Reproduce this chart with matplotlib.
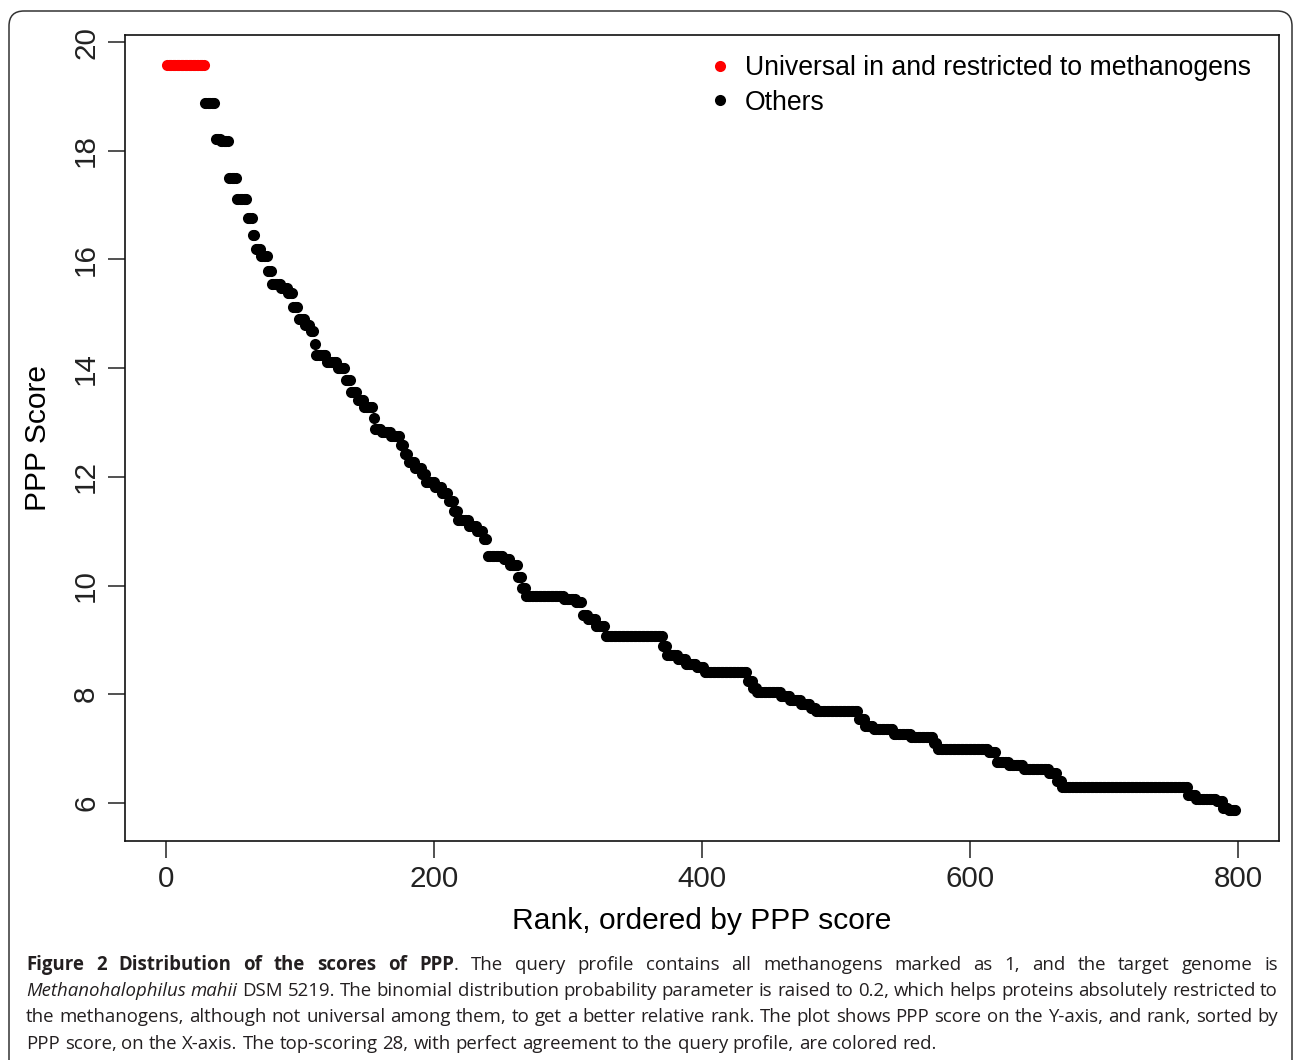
import numpy as np
import matplotlib
matplotlib.use('Agg')
import matplotlib.pyplot as plt
from matplotlib.patches import FancyBboxPatch
from matplotlib.transforms import IdentityTransform

# step levels of the PPP score and how many ranks sit on each level
step_scores = [19.57, 18.87, 18.22, 18.18, 17.50, 17.12, 16.77, 16.45, 16.20, 16.07,
               15.79, 15.55, 15.48, 15.38, 15.12, 14.90, 14.80, 14.68, 14.45, 14.25,
               14.12, 14.00, 13.78, 13.57, 13.42, 13.28, 13.08, 12.88, 12.82, 12.75,
               12.58, 12.42, 12.28, 12.16, 12.05, 11.90, 11.82, 11.70, 11.55, 11.38,
               11.20, 11.10, 11.00, 10.85, 10.55, 10.48, 10.38, 10.15, 9.95, 9.80,
               9.75, 9.70, 9.45, 9.38, 9.25, 9.08, 8.88, 8.72, 8.65, 8.55,
               8.50, 8.41, 8.25, 8.12, 8.04, 7.97, 7.90, 7.82, 7.75, 7.70,
               7.55, 7.42, 7.36, 7.26, 7.22, 7.10, 6.99, 6.93, 6.75, 6.70,
               6.62, 6.55, 6.40, 6.29, 6.15, 6.07, 6.03, 5.90, 5.87]
step_counts = [28, 8, 4, 6, 6, 8, 4, 2, 4, 5,
               3, 7, 5, 4, 4, 5, 4, 3, 1, 8,
               8, 6, 4, 5, 5, 7, 1, 5, 7, 7,
               3, 3, 5, 5, 3, 7, 5, 5, 4, 3,
               8, 6, 5, 3, 12, 5, 6, 3, 3, 28,
               9, 5, 4, 6, 7, 43, 3, 8, 6, 8,
               6, 32, 4, 3, 18, 7, 8, 7, 4, 32,
               5, 6, 15, 13, 17, 3, 38, 6, 9, 11,
               19, 6, 4, 94, 6, 15, 5, 4, 6]
n_red = 28  # top-scoring, perfect agreement

x_ticks = [0, 200, 400, 600, 800]
y_ticks = [6, 8, 10, 12, 14, 16, 18, 20]

scores = np.repeat(step_scores, step_counts)
ranks = np.arange(1, len(scores) + 1)

W, H = 1293, 1060
plt.rcParams['font.family'] = ['Liberation Sans', 'DejaVu Sans']
fig = plt.figure(figsize=(W / 100, H / 100), dpi=100)

# plot region in pixels
left, right, top, bottom = 125, 1279, 35, 841
ax = fig.add_axes([left / W, 1 - bottom / H, (right - left) / W, (bottom - top) / H])

ax.plot(ranks[n_red:], scores[n_red:], 'o', color='black', ms=8, mew=0,
        label='Others')
ax.plot(ranks[:n_red], scores[:n_red], 'o', color='#ff0000', ms=8, mew=0,
        label='Universal in and restricted to methanogens')

ax.set_xlim(-30.6, 830.6)
ax.set_ylim(5.30, 20.13)
ax.set_xticks(x_ticks)
ax.set_yticks(y_ticks)
ax.tick_params(labelsize=21.3, length=12, width=1.1, pad=5, colors='#222222')
ax.tick_params(axis='y', labelrotation=90, pad=6)
for lab in ax.get_yticklabels():
    lab.set_va('center')
for sp in ax.spines.values():
    sp.set_linewidth(1.2)
    sp.set_color('#111111')

h, l = ax.get_legend_handles_labels()
ax.legend(h[::-1], l[::-1], loc='upper left', bbox_to_anchor=(708 / W, 1 - 55 / H),
          bbox_transform=fig.transFigure, frameon=False, fontsize=19.15,
          handlelength=0.9, handletextpad=0.5, labelspacing=0.33,
          borderpad=0, borderaxespad=0)

fig.text((left + right) / 2 / W, 1 - 921 / H, 'Rank, ordered by PPP score',
         fontsize=21.6, ha='center', va='center')
fig.text(38 / W, 1 - (top + bottom) / 2 / H, 'PPP Score', fontsize=21.6,
         rotation=90, ha='center', va='center')

# rounded frame around the figure
frame = FancyBboxPatch((9, -30), 1292 - 9, 1049 + 30,
                       boxstyle='round,pad=0,rounding_size=15',
                       transform=IdentityTransform(), fill=False,
                       edgecolor='#333333', linewidth=1.1)
fig.patches.append(frame)

# caption, fully justified
B, N, I = 'bold', 'normal', 'italic'
cap_lines = [
    [('Figure 2 Distribution of the scores of PPP', B), ('. The query profile contains all methanogens marked as 1, and the target genome is', N)],
    [('Methanohalophilus mahii', I), (' DSM 5219. The binomial distribution probability parameter is raised to 0.2, which helps proteins absolutely restricted to', N)],
    [('the methanogens, although not universal among them, to get a better relative rank. The plot shows PPP score on the Y-axis, and rank, sorted by', N)],
    [('PPP score, on the X-axis. The top-scoring 28, with perfect agreement to the query profile, are colored red.', N)],
]
cap_font = ['Open Sans', 'DejaVu Sans']
cap_size = 13.4
cap_x0, cap_x1 = 26, 1278
baselines = [970, 996, 1022, 1049]

renderer = fig.canvas.get_renderer()


def make_text(s, style, y):
    kw = dict(fontsize=cap_size, family=cap_font, color='#231f20', va='baseline')
    if style == B:
        kw['fontweight'] = 'bold'
    if style == I:
        kw['fontstyle'] = 'italic'
    return fig.text(0, 1 - y / H, s, **kw)


sp_t = make_text('a a', N, 0)
sp_w = sp_t.get_window_extent(renderer).width - 2 * make_text('a', N, 0).get_window_extent(renderer).width
for t in fig.texts[-2:]:
    t.remove()

for li, segs in enumerate(cap_lines):
    y = baselines[li]
    # break into words, each word made of styled pieces
    words = [[]]
    for s, st in segs:
        parts = s.split(' ')
        for k, p in enumerate(parts):
            if k > 0:
                words.append([])
            if p:
                words[-1].append((p, st))
    words = [w for w in words if w]
    objs = []
    widths = []
    for w in words:
        pieces = []
        wsum = 0
        for p, st in w:
            t = make_text(p, st, y)
            pw = t.get_window_extent(renderer).width
            pieces.append((t, wsum))
            wsum += pw
        objs.append(pieces)
        widths.append(wsum)
    if li < len(cap_lines) - 1:
        gap = (cap_x1 - cap_x0 - sum(widths)) / (len(words) - 1)
    else:
        gap = sp_w
    x = cap_x0
    for pieces, ww in zip(objs, widths):
        for t, off in pieces:
            t.set_x((x + off) / W)
        x += ww + gap

fig.savefig('out.png', dpi=100)
